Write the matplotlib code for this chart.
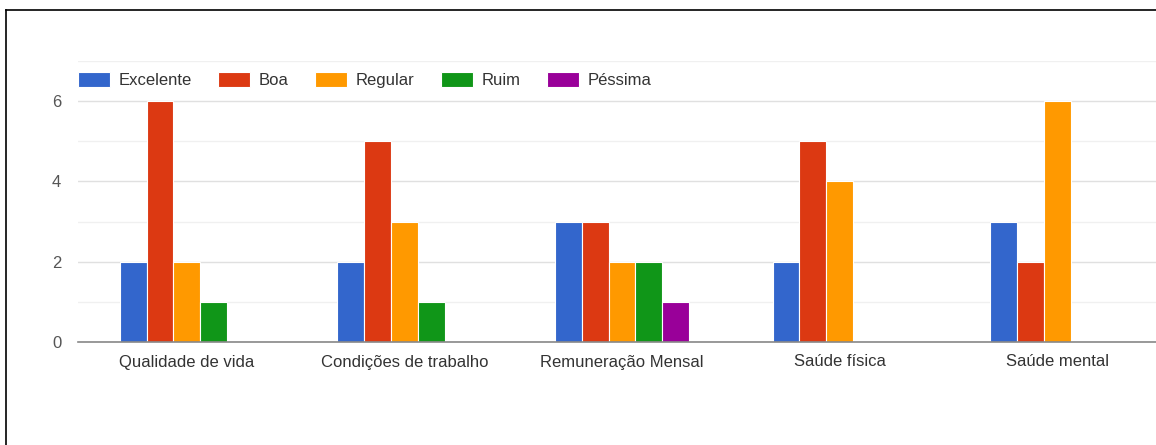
import numpy as np
import matplotlib
matplotlib.use("Agg")
import matplotlib.pyplot as plt
from matplotlib.lines import Line2D

plt.rcParams['font.family'] = ['Liberation Sans', 'DejaVu Sans']

categorias = ["Qualidade de vida", "Condições de trabalho", "Remuneração Mensal",
              "Saúde física", "Saúde mental"]
series = ["Excelente", "Boa", "Regular", "Ruim", "Péssima"]
excelente = [2, 2, 3, 2, 3]
boa = [6, 5, 3, 5, 2]
regular = [2, 3, 2, 4, 6]
ruim = [1, 1, 2, 0, 0]
pessima = [0, 0, 1, 0, 0]
valores = [excelente, boa, regular, ruim, pessima]
cores = ["#3366cc", "#dc3912", "#ff9900", "#109618", "#990099"]

fig = plt.figure(figsize=(11.56, 4.45), dpi=100)
ax = fig.add_axes([78 / 1156, 1 - 342 / 445, 1088 / 1156, 281 / 445])

x = np.arange(len(categorias))
passo = 0.123
for i, (nome, vals, cor) in enumerate(zip(series, valores, cores)):
    ax.bar(x + (i - 2) * passo, vals, width=passo, color=cor,
           edgecolor="white", linewidth=0.8, label=nome, zorder=3)

ax.set_xlim(-0.5, 4.5)
ax.set_ylim(0, 7)
ax.set_yticks([0, 2, 4, 6])
ax.set_yticks([1, 3, 5, 7], minor=True)
ax.grid(axis="y", which="major", color="#e0e0e0", linewidth=1, zorder=0)
ax.grid(axis="y", which="minor", color="#f0f0f0", linewidth=1, zorder=0)
ax.tick_params(axis="y", which="both", length=0, pad=12, labelsize=12, labelcolor="#555555")
ax.set_xticks(x)
ax.set_xticklabels(categorias)
ax.tick_params(axis="x", length=0, pad=9, labelsize=12, labelcolor="#333333")
for s in ["top", "right", "left"]:
    ax.spines[s].set_visible(False)
ax.spines["bottom"].set_color("#888888")
ax.spines["bottom"].set_linewidth(1.2)
ax.spines["bottom"].set_zorder(4)

ax.legend(loc="center left", bbox_to_anchor=(0, (342 - 80) / 281), ncol=5, frameon=False,
          fontsize=12, handlelength=1.92, handleheight=1.0, handletextpad=0.5,
          columnspacing=1.6, borderaxespad=0, borderpad=0)
for t in ax.get_legend().get_texts():
    t.set_color("#333333")

# moldura da captura
fig.add_artist(Line2D([6 / 1156, 1], [1 - 10 / 445] * 2, color="black", linewidth=1.2))
fig.add_artist(Line2D([6 / 1156] * 2, [0, 1 - 10 / 445], color="black", linewidth=1.2))

fig.savefig("out.png", dpi=100)
